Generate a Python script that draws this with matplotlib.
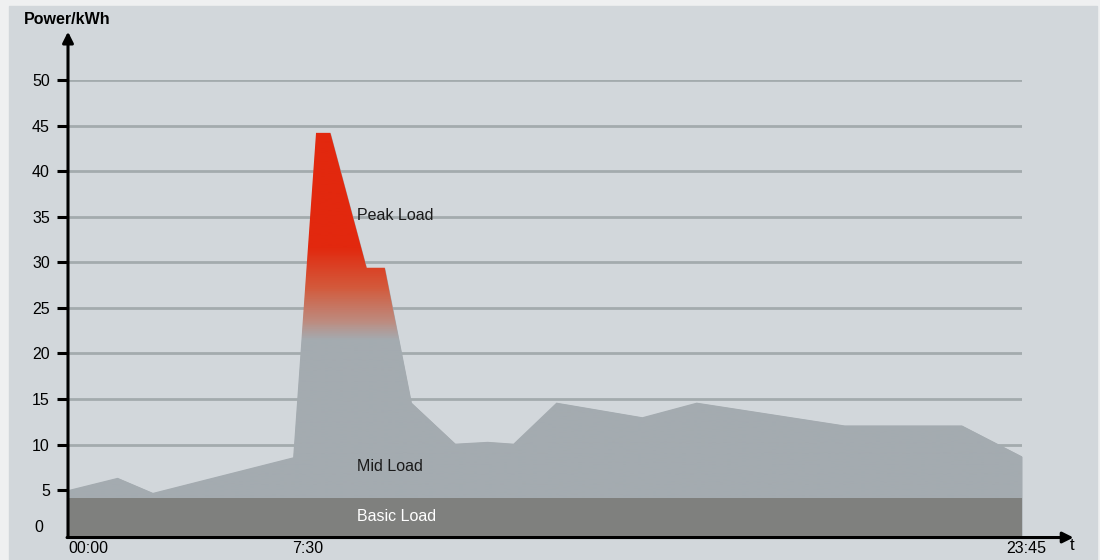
import numpy as np
import matplotlib
import matplotlib.pyplot as plt
from matplotlib.colors import LinearSegmentedColormap
from matplotlib.patches import Polygon, Rectangle

matplotlib.use("Agg")
plt.rcParams["font.family"] = ["Liberation Sans", "DejaVu Sans"]
plt.rcParams["font.size"] = 11

# load profile over the day (x = position along the day axis, 0..100)
x_pos = [0, 5.2, 8.9, 23.6, 26.0, 27.5, 31.3, 33.2, 36.0, 40.6, 44.0, 46.7,
         51.2, 60.2, 65.9, 81.4, 93.7, 100]
load = [5.0, 6.35, 4.7, 8.6, 44.2, 44.2, 29.4, 29.4, 14.6, 10.1, 10.3, 10.1,
        14.6, 13.0, 14.6, 12.1, 12.1, 8.7]
basic_load = 4.1

y_ticks = [5, 10, 15, 20, 25, 30, 35, 40, 45, 50]
grid_levels = [10, 15, 20, 25, 30, 35, 40, 45, 50]
x_labels = ["00:00", "7:30", "23:45"]
x_label_pos = [0, 23.5, 100]

panel_col = "#d2d7db"
grid_col = "#a3abad"
mid_col = "#a4abb0"
basic_col = "#7f807e"
red_col = "#e2280e"

fig = plt.figure(figsize=(11, 5.6), dpi=100, facecolor="#eff0f1")
fig.patches.append(Rectangle((9 / 1100, 0), 1088 / 1100, 554 / 560,
                             transform=fig.transFigure, color=panel_col, zorder=-1))

ax = fig.add_axes([68 / 1100, 24.3 / 560, 954 / 1100, 455.7 / 560])
ax.set_facecolor("none")

# grid lines behind the areas
for v in grid_levels:
    ax.plot([0, 100], [v, v], color=grid_col, lw=2, zorder=1, solid_capstyle="butt")

# mid load area
ax.fill_between(x_pos, 0, load, color=mid_col, lw=0, zorder=2)

# peak part: gradient clipped to the load outline
verts = np.column_stack([np.r_[x_pos, x_pos[::-1]], np.r_[load, np.zeros(len(load))]])
clip = Polygon(verts, closed=True, transform=ax.transData, fc="none", ec="none")
ax.add_patch(clip)
cmap = LinearSegmentedColormap.from_list("peak", [
    (0.0, mid_col), (0.43, mid_col), (0.47, "#bd8c80"),
    (0.545, "#d35a3c"), (0.635, red_col), (1.0, red_col)])
grad = np.linspace(0, 1, 500).reshape(-1, 1)
im = ax.imshow(grad, extent=[0, 100, 0, 50], origin="lower", aspect="auto",
               cmap=cmap, zorder=2.5, interpolation="bilinear")
im.set_clip_path(clip)

# basic load band
ax.fill_between(x_pos, 0, basic_load, color=basic_col, lw=0, zorder=3)

ax.set_xlim(0, 100)
ax.set_ylim(0, 50)
for s in ax.spines.values():
    s.set_visible(False)

ax.set_xticks([])
ax.set_yticks(y_ticks)
ax.set_yticklabels([str(v) for v in y_ticks])
ax.tick_params(axis="y", length=8, width=2.2, pad=5, labelsize=11.5, color="black")
ax.text(-2.6, 0.9, "0", ha="right", va="center", fontsize=11.5)

# axes arrows
arrow = dict(arrowstyle="-|>", lw=2.2, color="black", mutation_scale=16,
             shrinkA=0, shrinkB=0)
ax.annotate("", xy=(0, 55.3), xytext=(0, -0.2), arrowprops=arrow,
            annotation_clip=False, zorder=5)
ax.annotate("", xy=(105.4, -0.2), xytext=(-0.1, -0.2), arrowprops=arrow,
            annotation_clip=False, zorder=5)

for lab, p in zip(x_labels, x_label_pos):
    ha = "center" if p == 100 else "left"
    ax.text(p + (0.4 if p == 100 else 0), -1.45, lab, ha=ha, va="center", fontsize=11.5)

fig.text(24 / 1100, 1 - 20 / 560, "Power/kWh", ha="left", va="center",
         fontsize=11.5, fontweight="bold")
fig.text(1072 / 1100, 1 - 545 / 560, "t", ha="center", va="center", fontsize=12)

ax.text(30.3, 35.1, "Peak Load", ha="left", va="center", fontsize=11.5, color="#1a1a1a", zorder=6)
ax.text(30.3, 7.6, "Mid Load", ha="left", va="center", fontsize=11.5, color="#1a1a1a", zorder=6)
ax.text(30.3, 2.15, "Basic Load", ha="left", va="center", fontsize=11.5, color="white", zorder=6)

fig.savefig("out.png", dpi=100, facecolor=fig.get_facecolor())
